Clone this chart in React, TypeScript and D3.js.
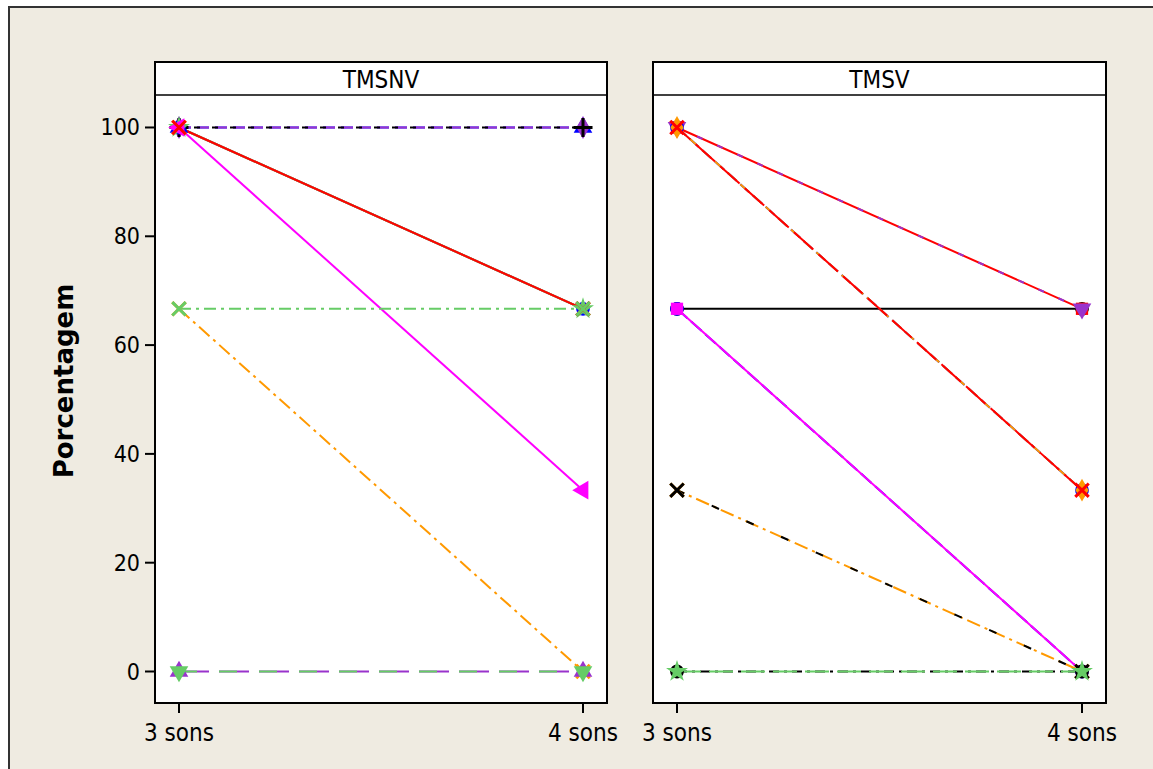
import React from 'react';
import * as d3 from 'd3';

// ---- data ----
const categories = ['3 sons', '4 sons'];
const panelTitles = ['TMSNV', 'TMSV'];
const yTicks = [0, 20, 40, 60, 80, 100];

// TMSNV: value at "3 sons" and at "4 sons" for each line
const tmsnv3 = [100, 100, 100, 100, 100, 100, 100, 100, 66.67, 66.67, 0, 0];
const tmsnv4 = [100, 100, 100, 66.67, 66.67, 66.67, 33.33, 66.67, 0, 66.67, 0, 0];
// TMSV
const tmsv3 = [66.67, 100, 100, 100, 100, 100, 66.67, 66.67, 33.33, 33.33, 0, 0];
const tmsv4 = [66.67, 66.67, 66.67, 33.33, 33.33, 33.33, 0, 0, 0, 0, 0, 0];

// ---- styles (separate from data) ----
type Sty = { c: string; d: string; s: string; rot?: number; off?: number };
const BLK = '#000000', RED = '#FF0000', BLU = '#0000FF', GRN = '#66CC66', ORG = '#FF9900', MAG = '#FF00FF', PUR = '#9933CC';
const tmsnvStyle: Sty[] = [
  { c: BLU, d: '12,6', s: 'triangle' },
  { c: PUR, d: '12,6', s: 'diamond' },
  { c: BLK, d: '6,12', s: 'plus', off: 3 },
  { c: BLU, d: '', s: 'circle' },
  { c: ORG, d: '', s: 'times' },
  { c: GRN, d: '', s: 'star' },
  { c: MAG, d: '', s: 'triangle', rot: -90 },
  { c: RED, d: '', s: 'times' },
  { c: ORG, d: '14,5,3,5', s: 'times' },
  { c: GRN, d: '12,5,3,5', s: 'times' },
  { c: PUR, d: '30,10', s: 'triangle' },
  { c: GRN, d: '18,22', s: 'triangle', rot: 180 },
];
const tmsvStyle: Sty[] = [
  { c: BLK, d: '', s: 'circle' },
  { c: RED, d: '', s: 'square' },
  { c: PUR, d: '6,16', s: 'triangle', rot: 180 },
  { c: BLU, d: '12,5', s: 'circle' },
  { c: ORG, d: '12,5', s: 'diamond' },
  { c: RED, d: '26,7', s: 'times', off: 8 },
  { c: BLU, d: '14,5', s: 'circle' },
  { c: MAG, d: '', s: 'square' },
  { c: ORG, d: '14,5,3,5', s: 'times', off: 6 },
  { c: BLK, d: '8,30', s: 'times' },
  { c: BLK, d: '10,5,3,5', s: 'circle' },
  { c: GRN, d: '24,8', s: 'star' },
];

const symMap: Record<string, any> = {
  circle: d3.symbolCircle,
  square: d3.symbolSquare,
  triangle: d3.symbolTriangle,
  diamond: d3.symbolDiamond,
  star: d3.symbolStar,
  plus: d3.symbolPlus,
  times: d3.symbolTimes,
};
const strokeSyms = new Set(['plus', 'times']);

const FONT = '"DejaVu Sans Condensed", "DejaVu Sans", sans-serif';

function Panel({ x0, x1, title, v3, v4, styles, yAxis }: any) {
  const top = 62, head = 95, bottom = 703;
  const x = d3.scalePoint<string>().domain(categories).range([x0 + 24, x1 - 24]);
  const y = d3.scaleLinear().domain([-5.79, 105.97]).range([bottom, head]);
  return (
    <g>
      <rect x={x0} y={top} width={x1 - x0} height={bottom - top} fill="#fff" stroke="#000" strokeWidth={2} />
      <line x1={x0} x2={x1} y1={head} y2={head} stroke="#000" strokeWidth={1.5} />
      <text x={(x0 + x1) / 2} y={88} textAnchor="middle" fontSize={24} fontFamily={FONT} fill="#000">{title}</text>
      {v3.map((a: number, i: number) => (
        <line key={'l' + i} x1={x(categories[0])} x2={x(categories[1])} y1={y(a)} y2={y(v4[i])}
          stroke={styles[i].c} strokeWidth={2} strokeDasharray={styles[i].d || undefined}
          strokeDashoffset={styles[i].off || 0} />
      ))}
      {v3.map((a: number, i: number) => {
        const st = styles[i];
        const stroke = strokeSyms.has(st.s);
        const path = d3.symbol(symMap[st.s], stroke ? 120 : 150)() as string;
        return [a, v4[i]].map((v, k) => (
          <path key={'m' + i + '_' + k} d={path}
            transform={`translate(${x(categories[k])},${y(v)}) rotate(${st.rot || 0})`}
            fill={stroke ? 'none' : st.c} stroke={stroke ? st.c : 'none'} strokeWidth={stroke ? 3 : 0} />
        ));
      })}
      {categories.map((c) => (
        <g key={c}>
          <line x1={x(c)} x2={x(c)} y1={bottom} y2={bottom + 10} stroke="#000" strokeWidth={2} />
          <text x={x(c)} y={741} textAnchor="middle" fontSize={24} fontFamily={FONT} fill="#000">{c}</text>
        </g>
      ))}
      {yAxis && yTicks.map((t) => (
        <g key={t}>
          <line x1={x0 - 10} x2={x0} y1={y(t)} y2={y(t)} stroke="#000" strokeWidth={2} />
          <text x={x0 - 15} y={y(t) + 8} textAnchor="end" fontSize={23} fontFamily={FONT} fill="#000">{t}</text>
        </g>
      ))}
    </g>
  );
}

export default function App() {
  return (
    <svg width={1153} height={769} style={{ position: 'absolute', left: 0, top: 0, background: '#fff' }}>
      <rect x={9} y={7} width={1200} height={800} fill="#EFEBE1" stroke="#333" strokeWidth={2} />
      <Panel x0={155} x1={607} title={panelTitles[0]} v3={tmsnv3} v4={tmsnv4} styles={tmsnvStyle} yAxis />
      <Panel x0={653} x1={1106} title={panelTitles[1]} v3={tmsv3} v4={tmsv4} styles={tmsvStyle} yAxis={false} />
      <text transform="translate(73,381) rotate(-90)" textAnchor="middle" fontSize={26} fontWeight="bold" fontFamily='"DejaVu Sans", sans-serif' fill="#000">Porcentagem</text>
    </svg>
  );
}
